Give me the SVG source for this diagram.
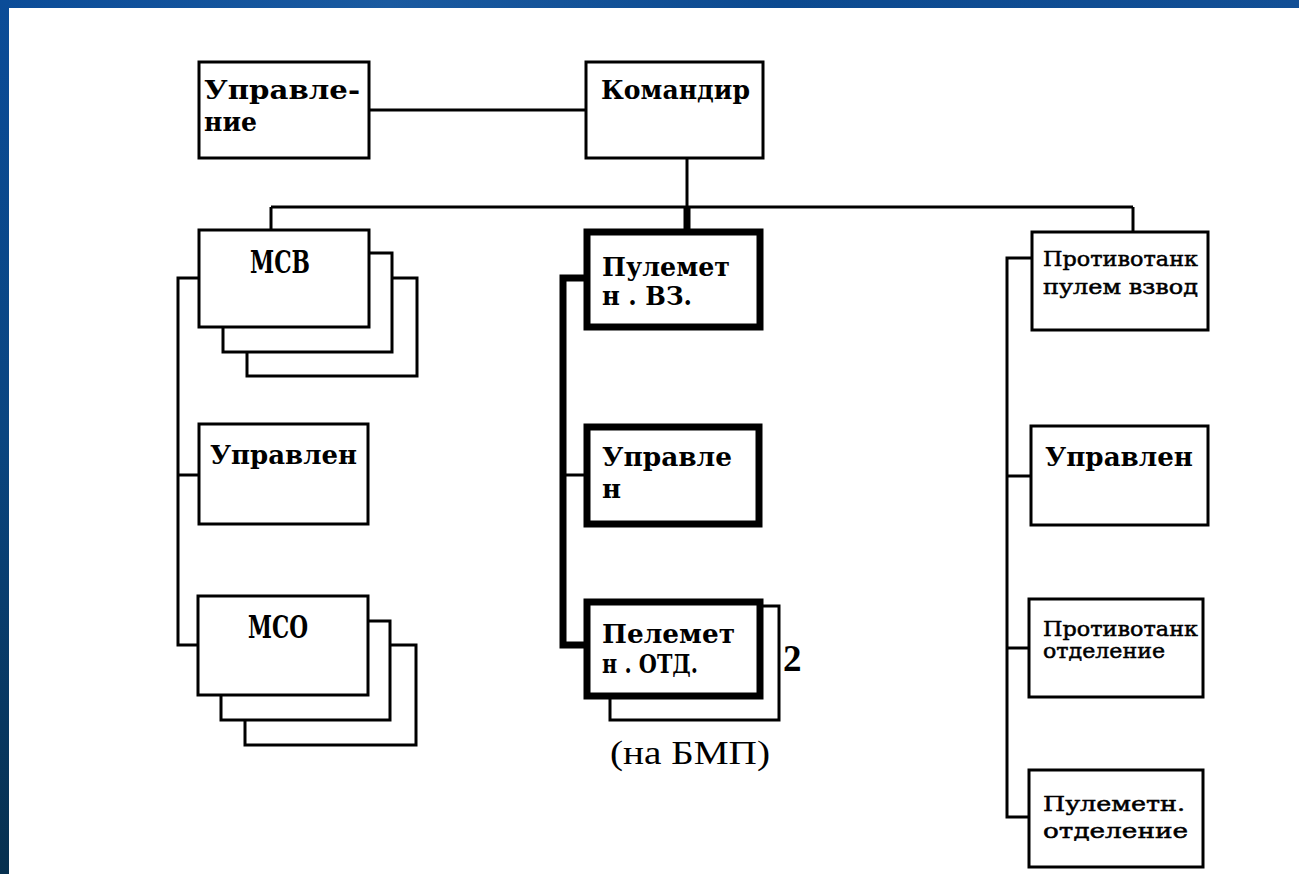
<svg xmlns="http://www.w3.org/2000/svg" width="1299" height="874" viewBox="0 0 1299 874">
<defs>
<linearGradient id="sideG" x1="0" y1="0" x2="0" y2="1">
<stop offset="0" stop-color="#0b4c98"/>
<stop offset="0.5" stop-color="#0a4580"/>
<stop offset="1" stop-color="#07304f"/>
</linearGradient>
<linearGradient id="topG" x1="0" y1="0" x2="1" y2="0">
<stop offset="0" stop-color="#0b4c98"/>
<stop offset="0.3" stop-color="#1a5aa0"/>
<stop offset="0.6" stop-color="#0c4a90"/>
<stop offset="1" stop-color="#124f95"/>
</linearGradient>
<style>
.box{fill:#fff;stroke:#000;stroke-width:3}
.thick{fill:#fff;stroke:#000;stroke-width:7}
.ln{fill:none;stroke:#000;stroke-width:3}
.tln{fill:none;stroke:#000;stroke-width:7}
.t{font-family:"DejaVu Serif","Liberation Serif",serif;font-weight:bold;font-size:26px;fill:#000}
.big{font-size:31px}
.s{font-family:"DejaVu Serif","Liberation Serif",serif;font-weight:normal;font-size:20px;fill:#000;stroke:#000;stroke-width:0.5}
.sr{font-family:"Liberation Serif","Times New Roman",serif;fill:#000}
</style>
</defs>
<rect x="0" y="0" width="1299" height="874" fill="#fff"/>
<rect x="0" y="0" width="1299" height="8" fill="url(#topG)"/>
<rect x="0" y="0" width="9" height="874" fill="url(#sideG)"/>

<g id="connectors">
<path class="ln" d="M369,110 H586"/>
<path class="ln" d="M687,158 V207"/>
<path class="ln" d="M271,207 H1133"/>
<path class="ln" d="M271,207 V230"/>
<path class="ln" d="M1133,207 V232"/>
<path class="tln" d="M687,207 V232"/>
<path class="tln" d="M587,278 H563 V645 H587"/>
<path class="ln" d="M563,475 H587"/>
<path class="ln" d="M199,278 H178 V645 H198"/>
<path class="ln" d="M178,475 H199"/>
<path class="ln" d="M1032,258 H1007 V817 H1029"/>
<path class="ln" d="M1007,476 H1031"/>
<path class="ln" d="M1007,648 H1029"/>
</g>

<g id="upravlenie">
<rect class="box" x="199" y="62" width="170" height="96"/>
<text class="t" x="204" y="99" textLength="156" lengthAdjust="spacingAndGlyphs">Управле-</text>
<text class="t" x="204" y="131" textLength="53" lengthAdjust="spacingAndGlyphs">ние</text>
</g>

<g id="komandir">
<rect class="box" x="586" y="62" width="177" height="96"/>
<text class="t" x="601" y="99" textLength="149" lengthAdjust="spacingAndGlyphs">Командир</text>
</g>

<g id="msv">
<rect class="box" x="247" y="278" width="170" height="98"/>
<rect class="box" x="223" y="253" width="169" height="99"/>
<rect class="box" x="199" y="230" width="170" height="97"/>
<text class="t big" x="250" y="273" textLength="60" lengthAdjust="spacingAndGlyphs">МСВ</text>
</g>

<g id="upravlen-left">
<rect class="box" x="199" y="424" width="169" height="100"/>
<text class="t" x="210" y="464" textLength="147" lengthAdjust="spacingAndGlyphs">Управлен</text>
</g>

<g id="mso">
<rect class="box" x="245" y="645" width="171" height="100"/>
<rect class="box" x="221" y="621" width="169" height="99"/>
<rect class="box" x="198" y="596" width="170" height="99"/>
<text class="t big" x="248" y="638" textLength="60" lengthAdjust="spacingAndGlyphs">МСО</text>
</g>

<g id="pulemet-vz">
<rect class="thick" x="587" y="232" width="173" height="95"/>
<text class="t" x="602" y="276" textLength="128" lengthAdjust="spacingAndGlyphs">Пулемет</text>
<text class="t" x="602" y="305" textLength="90" lengthAdjust="spacingAndGlyphs">н . ВЗ.</text>
</g>

<g id="upravlen-mid">
<rect class="thick" x="587" y="427" width="172" height="97"/>
<text class="t" x="602" y="466" textLength="130" lengthAdjust="spacingAndGlyphs">Управле</text>
<text class="t" x="602" y="498">н</text>
</g>

<g id="pulemet-otd">
<rect class="box" x="610" y="606" width="169" height="114"/>
<rect class="thick" x="587" y="602" width="173" height="94"/>
<text class="t" x="602" y="643" textLength="133" lengthAdjust="spacingAndGlyphs">Пелемет</text>
<text class="t" x="602" y="673" textLength="96" lengthAdjust="spacingAndGlyphs">н . ОТД.</text>
<text class="sr" x="783" y="671" font-size="37" font-weight="bold">2</text>
<text class="sr" x="610" y="764" font-size="33" textLength="160" lengthAdjust="spacingAndGlyphs">(на БМП)</text>
</g>

<g id="protivotank-vzvod">
<rect class="box" x="1032" y="232" width="176" height="98"/>
<text class="s" x="1043" y="266" textLength="155" lengthAdjust="spacingAndGlyphs">Противотанк</text>
<text class="s" x="1043" y="294" textLength="155" lengthAdjust="spacingAndGlyphs">пулем взвод</text>
</g>

<g id="upravlen-right">
<rect class="box" x="1031" y="426" width="177" height="99"/>
<text class="t" x="1045" y="466" textLength="148" lengthAdjust="spacingAndGlyphs">Управлен</text>
</g>

<g id="protivotank-otd">
<rect class="box" x="1029" y="599" width="174" height="98"/>
<text class="s" x="1043" y="636" textLength="155" lengthAdjust="spacingAndGlyphs">Противотанк</text>
<text class="s" x="1043" y="658" textLength="122" lengthAdjust="spacingAndGlyphs">отделение</text>
</g>

<g id="pulemetn-otd">
<rect class="box" x="1029" y="770" width="174" height="97"/>
<text class="s" x="1043" y="811" textLength="142" lengthAdjust="spacingAndGlyphs">Пулеметн.</text>
<text class="s" x="1043" y="838" textLength="145" lengthAdjust="spacingAndGlyphs">отделение</text>
</g>
</svg>
